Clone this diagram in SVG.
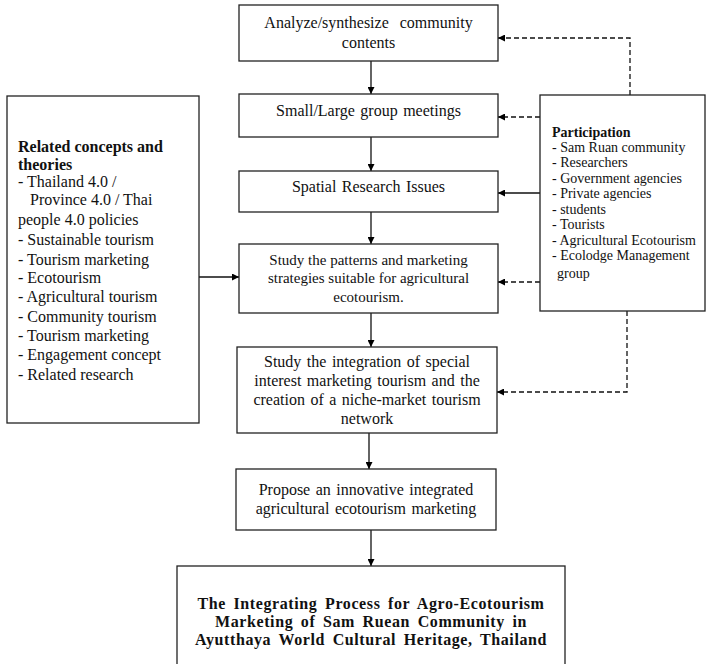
<svg xmlns="http://www.w3.org/2000/svg" width="706" height="664" viewBox="0 0 706 664">
<defs>
<marker id="ah" viewBox="0 0 10 10" refX="10" refY="5" markerWidth="8" markerHeight="7" markerUnits="userSpaceOnUse" orient="auto"><path d="M0,0 L10,5 L0,10 z" fill="#000"/></marker>
<style>
.box{fill:#fff;stroke:#222;stroke-width:1.3}
.t{font-family:"Liberation Serif","Times New Roman",serif;font-size:16px;fill:#111;text-anchor:middle;word-spacing:1.5px}
.s{font-size:15px;word-spacing:0}
.f{font-size:16px;word-spacing:3px;letter-spacing:0.6px}
.l{font-family:"Liberation Serif","Times New Roman",serif;font-size:16px;fill:#111}
.p{font-family:"Liberation Serif","Times New Roman",serif;font-size:14px;fill:#111}
.b{font-weight:bold}
.c{fill:none;stroke:#111;stroke-width:1.3}
.d{stroke-dasharray:5,3}
</style>
</defs>
<rect width="706" height="664" fill="#fff"/>
<g id="connectors">
<line class="c" x1="371" y1="61" x2="371" y2="94" marker-end="url(#ah)"/>
<line class="c" x1="371" y1="137" x2="371" y2="171" marker-end="url(#ah)"/>
<line class="c" x1="371" y1="212" x2="371" y2="244" marker-end="url(#ah)"/>
<line class="c" x1="371" y1="313" x2="371" y2="347" marker-end="url(#ah)"/>
<line class="c" x1="369" y1="433" x2="369" y2="469" marker-end="url(#ah)"/>
<line class="c" x1="371" y1="530" x2="371" y2="566" marker-end="url(#ah)"/>
<line class="c" x1="199" y1="277" x2="239" y2="277" marker-end="url(#ah)"/>
<line class="c" x1="540" y1="193" x2="498" y2="193" marker-end="url(#ah)"/>
<polyline class="c d" points="630,95 630,38 498,38" marker-end="url(#ah)"/>
<line class="c d" x1="540" y1="117" x2="498" y2="117" marker-end="url(#ah)"/>
<line class="c d" x1="540" y1="282" x2="498" y2="282" marker-end="url(#ah)"/>
<polyline class="c d" points="627,311 627,392 497,392" marker-end="url(#ah)"/>
</g>
<g id="n1">
<rect class="box" x="239" y="5" width="259" height="56"/>
<text class="t" x="368.5" y="28" xml:space="preserve">Analyze/synthesize  community</text>
<text class="t" x="368.5" y="48">contents</text>
</g>
<g id="n2">
<rect class="box" x="239" y="94" width="259" height="43"/>
<text class="t" x="368.5" y="116">Small/Large group meetings</text>
</g>
<g id="n3">
<rect class="box" x="239" y="171" width="259" height="41"/>
<text class="t" x="368.5" y="192">Spatial Research Issues</text>
</g>
<g id="n4">
<rect class="box" x="239" y="244" width="259" height="69"/>
<text class="t s" x="368.5" y="265">Study the patterns and marketing</text>
<text class="t s" x="368.5" y="283">strategies suitable for agricultural</text>
<text class="t s" x="368.5" y="302">ecotourism.</text>
</g>
<g id="n5">
<rect class="box" x="237" y="347" width="260" height="86"/>
<text class="t" x="367" y="367">Study the integration of special</text>
<text class="t" x="367" y="386">interest marketing tourism and the</text>
<text class="t" x="367" y="405">creation of a niche-market tourism</text>
<text class="t" x="367" y="424">network</text>
</g>
<g id="n6">
<rect class="box" x="236" y="469" width="260" height="61"/>
<text class="t" x="366" y="495">Propose an innovative integrated</text>
<text class="t" x="366" y="514">agricultural ecotourism marketing</text>
</g>
<g id="n7">
<rect class="box" x="177" y="566" width="388" height="110"/>
<text class="t b f" x="371" y="609">The Integrating Process for Agro-Ecotourism</text>
<text class="t b f" x="371" y="627">Marketing of Sam Ruean Community in</text>
<text class="t b f" x="371" y="645">Ayutthaya World Cultural Heritage, Thailand</text>
</g>
<g id="concepts">
<rect class="box" x="7" y="96" width="192" height="327"/>
<text class="l b" x="18" y="152">Related concepts and</text>
<text class="l b" x="18" y="170">theories</text>
<text class="l" x="18" y="187">- Thailand 4.0 /</text>
<text class="l" x="18" y="205" xml:space="preserve">   Province 4.0 / Thai</text>
<text class="l" x="18" y="225">people 4.0 policies</text>
<text class="l" x="18" y="245">- Sustainable tourism</text>
<text class="l" x="18" y="265">- Tourism marketing</text>
<text class="l" x="18" y="283">- Ecotourism</text>
<text class="l" x="18" y="302">- Agricultural tourism</text>
<text class="l" x="18" y="322">- Community tourism</text>
<text class="l" x="18" y="341">- Tourism marketing</text>
<text class="l" x="18" y="360">- Engagement concept</text>
<text class="l" x="18" y="380">- Related research</text>
</g>
<g id="participation">
<rect class="box" x="540" y="95" width="165" height="216"/>
<text class="p b" x="552" y="137">Participation</text>
<text class="p" x="552" y="152">- Sam Ruan community</text>
<text class="p" x="552" y="167">- Researchers</text>
<text class="p" x="552" y="183">- Government agencies</text>
<text class="p" x="552" y="198">- Private agencies</text>
<text class="p" x="552" y="214">- students</text>
<text class="p" x="552" y="229">- Tourists</text>
<text class="p" x="552" y="245">- Agricultural Ecotourism</text>
<text class="p" x="552" y="260">- Ecolodge Management</text>
<text class="p" x="557" y="278">group</text>
</g>
</svg>
